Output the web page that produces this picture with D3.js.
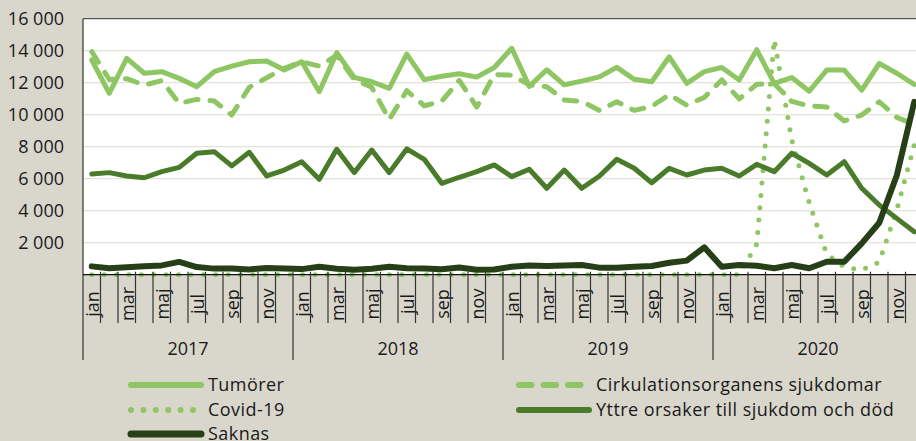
<!DOCTYPE html>
<html>
<head>
<meta charset="utf-8">
<script src="https://cdn.jsdelivr.net/npm/d3@7"></script>
<style>
    body { margin: 0; background: #d9d7cc; }
    svg { display: block; font-family: "Open Sans", sans-serif; }
</style>
</head>
<body>
<svg id="chart" width="916" height="441"></svg>
<script>
// Categories
const months = ['jan', 'feb', 'mar', 'apr', 'maj', 'jun', 'jul', 'aug', 'sep', 'okt', 'nov', 'dec'];
const years = ['2017', '2018', '2019', '2020'];
const yTicks = [2000, 4000, 6000, 8000, 10000, 12000, 14000, 16000];

// Series values, jan 2017 - dec 2020
const tumorer = [
    13420, 11340, 13520, 12590, 12690, 12270, 11750, 12690, 13040, 13310, 13360, 12790,
    13310, 11440, 13880, 12330, 12060, 11650, 13790, 12190, 12400, 12560, 12350, 12950,
    14150, 11770, 12810, 11870, 12100, 12360, 12960, 12210, 12060, 13620, 11960, 12690,
    12950, 12170, 14060, 11960, 12320, 11470, 12790, 12790, 11540, 13200, 12590, 11900
];
const cirkulation = [
    13940, 12200, 12250, 11850, 12130, 10710, 10960, 10860, 9980, 11710, 12310, 12900,
    13310, 13040, 13700, 12210, 11710, 9700, 11500, 10560, 10840, 12150, 10480, 12510,
    12470, 11860, 11750, 10920, 10830, 10270, 10810, 10270, 10520, 11250, 10600, 11080,
    12170, 10990, 11900, 11940, 10830, 10540, 10480, 9610, 9980, 10810, 9830, 9400
];
const covid = [
    0, 0, 0, 0, 0, 0, 0, 0, 0, 0, 0, 0,
    0, 0, 0, 0, 0, 0, 0, 0, 0, 0, 0, 0,
    0, 0, 0, 0, 0, 0, 0, 0, 0, 0, 0, 0,
    0, 0, 1920, 14700, 8420, 4480, 1290, 480, 290, 790, 4040, 8100
];
const yttre = [
    6290, 6380, 6170, 6060, 6440, 6710, 7590, 7690, 6800, 7650, 6170, 6540,
    7060, 5960, 7840, 6380, 7790, 6380, 7860, 7210, 5710, 6090, 6440, 6860,
    6130, 6590, 5400, 6540, 5400, 6150, 7210, 6650, 5750, 6650, 6230, 6540,
    6650, 6170, 6900, 6440, 7590, 6960, 6230, 7060, 5400, 4360, 3520, 2690
];
const saknas = [
    520, 400, 470, 530, 580, 800, 480, 380, 380, 330, 420, 390,
    350, 500, 370, 310, 370, 500, 400, 380, 340, 450, 310, 320,
    500, 580, 550, 570, 610, 440, 440, 500, 540, 750, 880, 1710,
    500, 610, 560, 400, 610, 400, 810, 810, 1960, 3250, 6200, 10800
];

const series = [
    { name: 'Tumörer', values: tumorer, color: '#8dc663', width: 5, dash: null },
    { name: 'Cirkulationsorganens sjukdomar', values: cirkulation, color: '#8dc663', width: 5, dash: '12.5,12' },
    { name: 'Covid-19', values: covid, color: '#8dc663', width: 5, dash: '0,12.4' },
    { name: 'Yttre orsaker till sjukdom och död', values: yttre, color: '#4a7b2b', width: 5, dash: null },
    { name: 'Saknas', values: saknas, color: '#263f17', width: 6, dash: null }
];

const categories = years.flatMap(yr => months.map(m => yr + '-' + m));

const svg = d3.select('#chart');
const plot = { left: 83, right: 923, top: 18.7, bottom: 274.7 };

const x = d3.scaleBand().domain(categories).range([plot.left, plot.right]);
const y = d3.scaleLinear().domain([0, 16000]).range([plot.bottom, plot.top]);
const fmt = d3.formatLocale({ decimal: ',', thousands: '\u00a0', grouping: [3], currency: ['', ' kr'] }).format(',d');

// Plot background
svg.append('rect')
    .attr('x', plot.left).attr('y', plot.top)
    .attr('width', plot.right - plot.left).attr('height', plot.bottom - plot.top)
    .attr('fill', '#ffffff');

// Gridlines
svg.append('g')
    .selectAll('line')
    .data(yTicks.slice(0, -1))
    .join('line')
    .attr('x1', plot.left).attr('x2', plot.right)
    .attr('y1', d => y(d)).attr('y2', d => y(d))
    .attr('stroke', '#e4e1d9').attr('stroke-width', 1.3);

// Y axis labels
const yAxis = svg.append('g')
    .attr('transform', `translate(${plot.left},0)`)
    .call(d3.axisLeft(y).tickValues(yTicks).tickFormat(fmt).tickSize(0).tickPadding(19));
yAxis.select('.domain').remove();
yAxis.selectAll('text')
    .attr('font-family', '"Open Sans", sans-serif')
    .attr('font-size', 18)
    .attr('fill', '#1a1a1a');

// Frame: top border and left axis
svg.append('line')
    .attr('x1', plot.left).attr('x2', plot.right)
    .attr('y1', plot.top).attr('y2', plot.top)
    .attr('stroke', '#555').attr('stroke-width', 1.3);
svg.append('line')
    .attr('x1', plot.left).attr('x2', plot.left)
    .attr('y1', plot.top).attr('y2', 360)
    .attr('stroke', '#333').attr('stroke-width', 1.2);

// Lines
const line = d3.line()
    .x((d, i) => x(categories[i]) + x.bandwidth() / 2)
    .y(d => y(d));

series.forEach(s => {
    svg.append('path')
        .attr('d', line(s.values))
        .attr('fill', 'none')
        .attr('stroke', s.color)
        .attr('stroke-width', s.width)
        .attr('stroke-linejoin', 'round')
        .attr('stroke-linecap', 'round')
        .attr('stroke-dasharray', s.dash);
});

// Category axis: month ticks, month labels, year separators
const xAxis = svg.append('g');
xAxis.append('line')
    .attr('x1', plot.left).attr('x2', plot.right)
    .attr('y1', plot.bottom).attr('y2', plot.bottom)
    .attr('stroke', '#111').attr('stroke-width', 1.3);

categories.forEach((c, i) => {
    const x0 = x(c);
    if (i > 0) {
        xAxis.append('line')
            .attr('x1', x0).attr('x2', x0)
            .attr('y1', plot.bottom - 3)
            .attr('y2', i % 12 === 0 ? 360 : 323)
            .attr('stroke', '#333').attr('stroke-width', 1.2);
    }
    if (i % 2 === 0) {
        const cx = x0 + x.bandwidth() / 2;
        xAxis.append('text')
            .attr('transform', `translate(${cx + 1},304) rotate(-90)`)
            .attr('text-anchor', 'middle')
            .attr('dy', '0.35em')
            .attr('font-size', 18)
            .attr('fill', '#1a1a1a')
            .text(months[i % 12]);
    }
});

years.forEach(yr => {
    const x0 = x(yr + '-jan');
    const x1 = x(yr + '-dec') + x.bandwidth();
    xAxis.append('text')
        .attr('x', (x0 + x1) / 2)
        .attr('y', 355)
        .attr('text-anchor', 'middle')
        .attr('font-size', 18)
        .attr('fill', '#1a1a1a')
        .text(yr);
});

// Legend
const legendPos = [
    { x: 131, y: 385 },
    { x: 519, y: 385 },
    { x: 131, y: 410 },
    { x: 519, y: 410 },
    { x: 131, y: 434 }
];
series.forEach((s, i) => {
    const p = legendPos[i];
    const g = svg.append('g').attr('transform', `translate(${p.x},${p.y})`);
    g.append('line')
        .attr('x1', 0).attr('x2', s.dash === '0,12.4' ? 62 : 70)
        .attr('y1', 0).attr('y2', 0)
        .attr('stroke', s.color)
        .attr('stroke-width', s.width + 1)
        .attr('stroke-linecap', 'round')
        .attr('stroke-dasharray', s.dash);
    g.append('text')
        .attr('x', 77)
        .attr('dy', '0.35em')
        .attr('font-size', 18)
        .attr('letter-spacing', 0.45)
        .attr('fill', '#1a1a1a')
        .text(s.name);
});
</script>
</body>
</html>
